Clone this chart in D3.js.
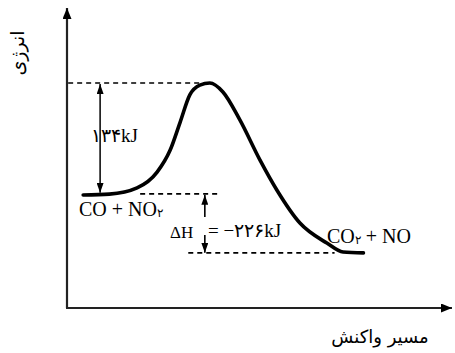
<!DOCTYPE html>
<html><head><meta charset="utf-8">
<script src="https://cdn.jsdelivr.net/npm/d3@7"></script>
<style>html,body{margin:0;padding:0;background:#fff}svg{display:block}</style>
</head><body>
<script>
// Reaction progress (0-100) and schematic energy level (0-100, axis bottom = 0)
const progress = [4.2, 11.0, 18.2, 23.4, 26.8, 29.4, 31.9, 34.5, 37.1, 40.5, 44.9, 50.1, 54.5, 60.5, 67.5, 71.7, 77.0];
const energy   = [37.9, 38.2, 40.3, 45.6, 53.0, 62.4, 71.5, 74.8, 75.5, 72.5, 63.1, 49.7, 39.6, 28.5, 21.8, 18.8, 18.5];
const levelNames = ["reactants", "transition", "products"];
const levelValues = [38.3, 75.5, 18.5];
const eaArrowX = 8.6, dhArrowX = 35.8;
const yAxisLabel = "انرژی";
const xAxisLabel = "مسیر واکنش";
const reactantLabel = ["CO + NO", "۲"];
const productLabel = ["CO", "۲", " + NO"];
const eaLabel = "۱۳۴kJ";
const dhLabel = ["ΔH", "= −۲۲۶kJ"];

const W = 455, H = 353;
const x = d3.scaleLinear().domain([0, 100]).range([67, 452]);
const y = d3.scaleLinear().domain([0, 100]).range([308, 10]);
const lv = Object.fromEntries(levelNames.map((n, i) => [n, levelValues[i]]));

const svg = d3.select("body").append("svg").attr("width", W).attr("height", H);
const defs = svg.append("defs");
function marker(id, w, l) {
  defs.append("marker").attr("id", id).attr("viewBox", `0 -${w/2} ${l} ${w}`)
    .attr("refX", l).attr("refY", 0).attr("markerWidth", l).attr("markerHeight", w)
    .attr("markerUnits", "userSpaceOnUse").attr("orient", "auto-start-reverse")
    .append("path").attr("d", `M0,-${w/2}L${l},0L0,${w/2}Z`).attr("fill", "#000");
}
marker("axisHead", 9, 11);
marker("smallHead", 7, 10);

// axes
svg.append("line").attr("x1", x(0)).attr("y1", y(0)).attr("x2", x(0)).attr("y2", y(100) - 2)
  .attr("stroke", "#222").attr("stroke-width", 2.2).attr("marker-end", "url(#axisHead)");
svg.append("line").attr("x1", x(0) - 1).attr("y1", y(0)).attr("x2", x(100)).attr("y2", y(0))
  .attr("stroke", "#222").attr("stroke-width", 1.8).attr("marker-end", "url(#axisHead)");

// dashed level lines
const dash = "5,4";
const dashed = [
  [0.3, 37.1, lv.transition],
  [19.0, 39.8, lv.reactants],
  [31.5, 69.5, lv.products]
];
svg.selectAll("line.dash").data(dashed).join("line").attr("class", "dash")
  .attr("x1", d => x(d[0])).attr("x2", d => x(d[1]))
  .attr("y1", d => y(d[2])).attr("y2", d => y(d[2]))
  .attr("stroke", "#000").attr("stroke-width", 1.6).attr("stroke-dasharray", dash);

// energy profile curve
const pts = progress.map((p, i) => [p, energy[i]]);
svg.append("path").datum(pts)
  .attr("d", d3.line().x(d => x(d[0])).y(d => y(d[1])).curve(d3.curveMonotoneX))
  .attr("fill", "none").attr("stroke", "#000").attr("stroke-width", 3.6).attr("stroke-linecap", "round");

// Ea double arrow
svg.append("line").attr("x1", x(eaArrowX)).attr("x2", x(eaArrowX))
  .attr("y1", y(lv.reactants) - 1).attr("y2", y(lv.transition) + 1)
  .attr("stroke", "#000").attr("stroke-width", 1.5)
  .attr("marker-start", "url(#smallHead)").attr("marker-end", "url(#smallHead)");

// ΔH arrows
svg.append("line").attr("x1", x(dhArrowX)).attr("x2", x(dhArrowX))
  .attr("y1", 217).attr("y2", y(lv.reactants) + 1)
  .attr("stroke", "#000").attr("stroke-width", 1.6).attr("marker-end", "url(#smallHead)");
svg.append("line").attr("x1", x(dhArrowX)).attr("x2", x(dhArrowX))
  .attr("y1", 235).attr("y2", y(lv.products))
  .attr("stroke", "#000").attr("stroke-width", 1.6).attr("marker-end", "url(#smallHead)");

const serif = "'Liberation Serif','DejaVu Serif',serif";

// labels
svg.append("text").attr("x", 91).attr("y", 142).attr("font-family", serif).attr("font-size", 19)
  .attr("direction", "ltr").text(eaLabel);

const rt = svg.append("text").attr("x", 79).attr("y", 216).attr("font-family", serif).attr("font-size", 20).attr("direction", "ltr");
rt.append("tspan").text(reactantLabel[0]);
rt.append("tspan").attr("font-size", 12).attr("dy", 1).text(reactantLabel[1]);

const pt = svg.append("text").attr("x", 327).attr("y", 243).attr("font-family", serif).attr("font-size", 20).attr("direction", "ltr");
pt.append("tspan").text(productLabel[0]);
pt.append("tspan").attr("font-size", 12).attr("dy", 1).text(productLabel[1]);
pt.append("tspan").attr("dy", -1).text(productLabel[2]);

svg.append("text").attr("x", 170).attr("y", 238).attr("font-family", serif).attr("font-size", 17).text(dhLabel[0]);
svg.append("text").attr("x", 208).attr("y", 237).attr("font-family", serif).attr("font-size", 19)
  .attr("direction", "ltr").text(dhLabel[1]);

svg.append("text").attr("transform", "translate(24,53) rotate(-90)").attr("text-anchor", "middle")
  .attr("font-family", "'DejaVu Sans','Noto Sans',sans-serif").attr("font-size", 19).attr("direction", "rtl").text(yAxisLabel);
svg.append("text").attr("x", 380).attr("y", 343).attr("text-anchor", "middle")
  .attr("font-family", "'DejaVu Sans','Noto Sans',sans-serif").attr("font-size", 18).attr("direction", "rtl").text(xAxisLabel);
</script>
</body></html>
